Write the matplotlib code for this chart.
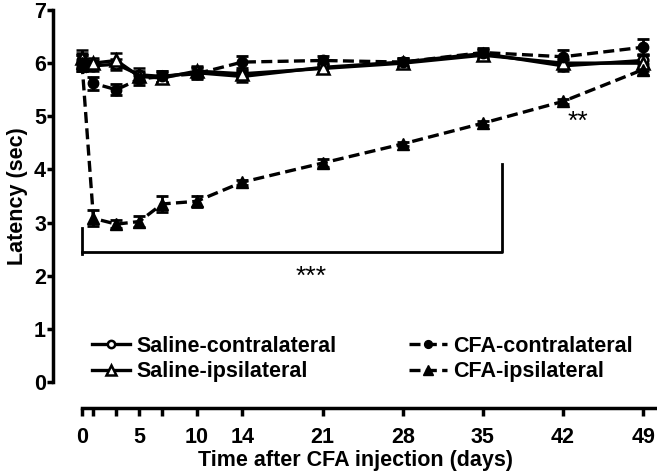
import numpy as np
import matplotlib
matplotlib.use('Agg')
import matplotlib.pyplot as plt

plt.rcParams['font.family'] = ['Liberation Sans', 'DejaVu Sans']
plt.rcParams['font.weight'] = 'bold'

days = [0, 1, 3, 5, 7, 10, 14, 21, 28, 35, 42, 49]
tick_labels = ['0', '', '', '5', '', '10', '14', '21', '28', '35', '42', '49']

sal_contra = [6.05, 5.95, 5.98, 5.78, 5.75, 5.82, 5.75, 5.92, 6.02, 6.18, 5.95, 6.05]
sal_contra_err = [0.15, 0.10, 0.10, 0.12, 0.10, 0.10, 0.10, 0.08, 0.08, 0.08, 0.10, 0.12]
sal_ipsi = [6.10, 6.00, 6.05, 5.75, 5.72, 5.85, 5.80, 5.90, 6.00, 6.15, 6.00, 6.00]
sal_ipsi_err = [0.15, 0.10, 0.15, 0.10, 0.10, 0.10, 0.08, 0.08, 0.08, 0.10, 0.08, 0.15]
cfa_contra = [6.00, 5.62, 5.50, 5.70, 5.75, 5.80, 6.02, 6.05, 6.02, 6.20, 6.12, 6.30]
cfa_contra_err = [0.15, 0.12, 0.10, 0.12, 0.10, 0.10, 0.12, 0.08, 0.08, 0.08, 0.12, 0.15]
cfa_ipsi = [6.00, 3.08, 2.97, 3.02, 3.35, 3.40, 3.76, 4.12, 4.48, 4.87, 5.28, 5.88]
cfa_ipsi_err = [0.15, 0.15, 0.08, 0.10, 0.15, 0.10, 0.05, 0.08, 0.04, 0.04, 0.04, 0.10]

# significance bracket (days, latency)
bracket_x = [0, 36.7]
bracket_y = 2.45

fig = plt.figure(figsize=(6.57, 4.76), dpi=100)
ax = fig.add_axes([53/657, 1 - 382/476, 604/657, 372/476])

dash = (0, (3.3, 1.6))
common = dict(color='black', lw=2.4, capsize=4.5, elinewidth=2, capthick=2, clip_on=False)

e1 = ax.errorbar(days, sal_contra, yerr=sal_contra_err, fmt='-o', ms=7, mfc='white', mec='black',
                 mew=1.8, **common)
e2 = ax.errorbar(days, sal_ipsi, yerr=sal_ipsi_err, fmt='-^', ms=9, mfc='white', mec='black',
                 mew=1.8, **common)
e3 = ax.errorbar(days, cfa_contra, yerr=cfa_contra_err, fmt='o', ls=dash, ms=7.5, mfc='black',
                 mec='black', **common)
e4 = ax.errorbar(days, cfa_ipsi, yerr=cfa_ipsi_err, fmt='^', ls=dash, ms=9, mfc='black',
                 mec='black', **common)

ax.plot([bracket_x[0], bracket_x[0]], [2.4, 2.9], color='black', lw=2)
ax.plot([bracket_x[0], bracket_x[1], bracket_x[1]], [bracket_y, bracket_y, 4.1], color='black', lw=2)
ax.text(20, 1.97, '***', ha='center', va='center', fontsize=19, fontweight='normal')
ax.text(43.3, 4.9, '**', ha='center', va='center', fontsize=19, fontweight='normal')

ax.set_xlim(-2.53, 50.2)
ax.set_ylim(0, 7)
ax.set_xticks(days)
ax.set_xticklabels(tick_labels)
ax.set_yticks(range(8))

for s in ['top', 'right']:
    ax.spines[s].set_visible(False)
ax.spines['left'].set_linewidth(2.5)
ax.spines['bottom'].set_linewidth(2.5)
ax.spines['bottom'].set_position(('outward', 19))
ax.spines['bottom'].set_bounds(0, 50.2)
ax.tick_params(axis='both', labelsize=15.5, width=2.5, length=4, pad=1)
ax.tick_params(axis='x', length=6, pad=7.5)

ax.set_ylabel('Latency (sec)', fontsize=15.5, fontweight='bold', labelpad=4)
ax.set_xlabel('Time after CFA injection (days)', fontsize=15.5, fontweight='bold', labelpad=1.5)

handles = [e1[0], e2[0], e3[0], e4[0]]
labels = ['Saline-contralateral', 'Saline-ipsilateral', 'CFA-contralateral', 'CFA-ipsilateral']
leg = ax.legend(handles, labels, ncol=2, loc='upper left', bbox_to_anchor=(92/657, 1 - 336/476),
                bbox_transform=fig.transFigure, frameon=False, fontsize=15.5,
                handlelength=1.75, handletextpad=0.3, columnspacing=3.4,
                labelspacing=0.2, borderpad=0, borderaxespad=0, markerscale=0.75)

fig.savefig('out.png', dpi=100)
